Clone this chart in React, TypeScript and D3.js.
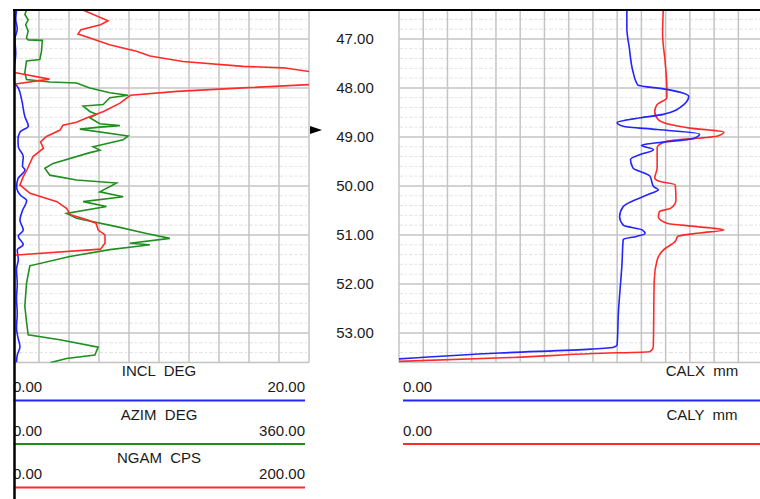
import React from "react";
import * as d3 from "d3";

// depth axis (m)
const depthTicks = [47, 48, 49, 50, 51, 52, 53];
const depthDomain: [number, number] = [46.41, 53.605];
const markerDepth = 48.86;

// [depth, value] pairs
const INCL: [number, number][] = [
  [46.42, 0.5], [46.6, 0.45], [46.8, 0.55], [47.0, 0.4], [47.3, 0.45], [47.6, 0.35],
  [47.85, 0.3], [48.0, 0.62], [48.25, 0.85], [48.6, 1.07], [48.78, 1.29], [48.9, 0.73],
  [49.05, 0.6], [49.2, 0.62], [49.4, 0.95], [49.6, 0.9], [49.67, 1.07], [49.85, 0.6],
  [50.02, 0.51], [50.2, 0.8], [50.3, 1.18], [50.5, 0.9], [50.7, 0.73], [50.9, 0.95],
  [51.03, 0.62], [51.2, 0.95], [51.3, 0.55], [51.5, 0.62], [51.7, 0.5], [52.0, 0.55],
  [52.3, 0.5], [52.6, 0.55], [52.9, 0.5], [53.1, 0.6], [53.28, 0.73], [53.45, 0.55], [53.6, 0.5],
];

const AZIM: [number, number][] = [
  [46.42, 21], [46.5, 19], [46.61, 23], [46.71, 20], [46.84, 23], [46.98, 21], [47.02, 23],
  [47.03, 40], [47.25, 39], [47.42, 37], [47.45, 21], [47.69, 19], [47.83, 21], [47.88, 49],
  [47.9, 81], [48.0, 97], [48.1, 121], [48.15, 143], [48.2, 121], [48.34, 113], [48.37, 89],
  [48.48, 97], [48.54, 105], [48.61, 97], [48.73, 109], [48.77, 133], [48.8, 109], [48.84, 85],
  [48.98, 143], [49.06, 137], [49.2, 101], [49.27, 109], [49.32, 97], [49.54, 53], [49.64, 43],
  [49.78, 49], [49.88, 81], [49.94, 129], [50.12, 109], [50.22, 137], [50.32, 89], [50.42, 117],
  [50.56, 69], [50.66, 81], [50.83, 129], [50.97, 165], [51.07, 193], [51.17, 145], [51.2, 169],
  [51.24, 150], [51.3, 121], [51.44, 73], [51.63, 25], [51.99, 21], [52.46, 19], [52.77, 21],
  [53.04, 23], [53.14, 61], [53.29, 107], [53.45, 103], [53.52, 69], [53.61, 49],
];

const NGAM: [number, number][] = [
  [46.42, 50], [46.63, 66], [46.71, 61], [46.81, 48], [46.9, 46], [46.98, 54], [47.12, 67],
  [47.25, 85], [47.35, 94], [47.46, 116], [47.56, 156], [47.59, 183], [47.67, 201], [47.82, 227],
  [47.93, 202], [48.0, 156], [48.07, 112], [48.15, 81], [48.31, 74], [48.48, 63], [48.61, 52],
  [48.7, 45], [48.76, 36], [48.86, 34], [48.99, 25], [49.1, 21], [49.23, 23], [49.4, 16],
  [49.67, 12], [49.81, 9.5], [49.98, 7.3], [50.15, 14], [50.32, 32], [50.46, 38.5], [50.59, 41],
  [50.69, 52], [50.76, 58], [50.9, 59.5], [51.0, 64], [51.17, 64], [51.29, 61], [51.41, 5], [51.42, 0],
];

const CALX: [number, number][] = [
  [46.42, 188], [46.78, 188], [47.18, 190], [47.66, 193], [47.94, 197], [48.03, 221], [48.17, 239],
  [48.34, 235], [48.54, 218], [48.61, 199], [48.71, 180], [48.78, 185], [48.85, 213], [48.94, 248],
  [49.03, 243], [49.12, 213], [49.17, 200], [49.26, 210], [49.36, 199], [49.46, 191], [49.63, 193],
  [49.8, 207], [50.01, 210], [50.08, 214], [50.15, 208], [50.42, 185], [50.63, 182], [50.8, 185],
  [50.9, 201], [50.97, 203], [51.03, 196], [51.09, 185], [51.58, 184], [52.6, 181], [53.24, 180],
  [53.29, 177], [53.33, 158], [53.41, 83], [53.53, 0],
];

const CALY: [number, number][] = [
  [46.42, 218], [46.91, 217.5], [47.45, 219.5], [47.99, 221], [48.2, 221], [48.34, 213], [48.48, 211],
  [48.65, 214], [48.82, 240], [48.9, 268], [48.98, 263], [49.09, 221], [49.22, 213], [49.63, 213],
  [49.84, 211], [49.9, 214], [49.98, 228], [50.29, 228.5], [50.46, 224], [50.52, 215], [50.63, 214],
  [50.76, 221], [50.83, 246], [50.9, 268], [50.96, 248], [51.03, 230], [51.13, 228], [51.31, 218],
  [51.51, 213], [51.92, 210.6], [53.28, 209.8], [53.38, 207], [53.42, 160], [53.5, 94], [53.58, 0],
];

const leftLegend = [
  { name: "INCL  DEG", min: "0.00", max: "20.00", color: "#2424ff" },
  { name: "AZIM  DEG", min: "0.00", max: "360.00", color: "#1f8f1f" },
  { name: "NGAM  CPS", min: "0.00", max: "200.00", color: "#ff2b2b" },
];
const rightLegend = [
  { name: "CALX  mm", min: "0.00", color: "#2424ff" },
  { name: "CALY  mm", min: "0.00", color: "#ff2b2b" },
];

const W = 760;
const H = 499;
const top = 10;
const bottom = 362.6;
const L0 = 9, L1 = 309;
const R0 = 399, R1 = 1005;
const FONT = "'Liberation Sans', Arial, sans-serif";

export default function App() {
  const y = d3.scaleLinear().domain(depthDomain).range([top, bottom]);
  const xIncl = d3.scaleLinear().domain([0, 20]).range([L0, L1]);
  const xAzim = d3.scaleLinear().domain([0, 360]).range([L0, L1]);
  const xNgam = d3.scaleLinear().domain([0, 200]).range([L0, L1]);
  const xCal = d3.scaleLinear().domain([0, 500]).range([R0, R1]);

  const mk = (fx: (v: number) => number, curve: d3.CurveFactory = d3.curveLinear) =>
    d3.line<[number, number]>().x((d) => fx(d[1])).y((d) => y(d[0])).curve(curve);

  const minor = d3.range(232, 269).map((i) => i / 5).filter((d) => d % 1 !== 0 && d > depthDomain[0] && d < depthDomain[1]);
  const leftV = xIncl.ticks(10).map((t) => xIncl(t));
  const rightV = xCal.ticks(20).map((t) => xCal(t));

  const grid = (x0: number, x1: number, vs: number[]) => (
    <g>
      {minor.map((d) => (
        <line key={"m" + d} x1={x0} x2={x1} y1={y(d)} y2={y(d)} stroke="#e2e2e2" strokeWidth={1} strokeDasharray="4,2,2,2" />
      ))}
      {vs.map((x, i) => (
        <line key={"v" + i} x1={x} x2={x} y1={top} y2={bottom} stroke="#c4c4c4" strokeWidth={1.5} />
      ))}
      {depthTicks.map((d) => (
        <line key={"h" + d} x1={x0} x2={x1} y1={y(d)} y2={y(d)} stroke="#c4c4c4" strokeWidth={1.5} />
      ))}
      <line x1={x0} x2={x1} y1={bottom} y2={bottom} stroke="#c4c4c4" strokeWidth={1.5} />
    </g>
  );

  const ym = y(markerDepth);
  const rowH = 43.5;

  return (
    <svg width={W} height={H} style={{ position: "absolute", left: 0, top: 0, background: "#fff" }} fontFamily={FONT}>
      <defs>
        <clipPath id="clipL"><rect x={L0} y={top} width={L1 - L0} height={bottom - top} /></clipPath>
        <clipPath id="clipR"><rect x={R0} y={top} width={R1 - R0} height={bottom - top} /></clipPath>
      </defs>
      <rect width={W} height={H} fill="#fff" />

      {grid(L0, L1, leftV)}
      {grid(R0, R1, rightV)}

      <g clipPath="url(#clipL)" fill="none" strokeWidth={1.6}>
        <path d={mk(xIncl, d3.curveMonotoneY)(INCL) ?? ""} stroke="#2424ff" />
        <path d={mk(xAzim)(AZIM) ?? ""} stroke="#1f8f1f" />
        <path d={mk(xNgam)(NGAM) ?? ""} stroke="#ff2b2b" />
        {/* wrap-around of NGAM above 200 cps */}
        <path d={mk((v) => xNgam(v - 200))(NGAM) ?? ""} stroke="#ff2b2b" />
      </g>
      <g clipPath="url(#clipR)" fill="none" strokeWidth={1.6}>
        <path d={mk(xCal, d3.curveMonotoneY)(CALY) ?? ""} stroke="#ff2b2b" />
        <path d={mk(xCal, d3.curveMonotoneY)(CALX) ?? ""} stroke="#2424ff" />
      </g>

      {/* depth track */}
      {depthTicks.map((d) => (
        <text key={d} x={(L1 + R0) / 2 + 1} y={y(d)} dy="0.36em" textAnchor="middle" fontSize={15} fill="#1a1a1a">
          {d.toFixed(2)}
        </text>
      ))}
      <polygon points={`${L1 + 1},${ym - 4} ${L1 + 13},${ym} ${L1 + 1},${ym + 4}`} fill="#000" />

      {/* headers */}
      {leftLegend.map((c, i) => (
        <g key={c.name} fontSize={15} fill="#1a1a1a">
          <text x={(L0 + L1) / 2} y={376 + i * rowH} textAnchor="middle" style={{ whiteSpace: "pre" }}>{c.name}</text>
          <text x={L0 + 4} y={392 + i * rowH}>{c.min}</text>
          <text x={L1 - 4} y={392 + i * rowH} textAnchor="end">{c.max}</text>
          <line x1={L0 + 4} x2={L1 - 4} y1={400.5 + i * rowH} y2={400.5 + i * rowH} stroke={c.color} strokeWidth={2} />
        </g>
      ))}
      {rightLegend.map((c, i) => (
        <g key={c.name} fontSize={15} fill="#1a1a1a">
          <text x={(R0 + R1) / 2} y={376 + i * rowH} textAnchor="middle" style={{ whiteSpace: "pre" }}>{c.name}</text>
          <text x={R0 + 4} y={392 + i * rowH}>{c.min}</text>
          <line x1={R0 + 4} x2={W} y1={400.5 + i * rowH} y2={400.5 + i * rowH} stroke={c.color} strokeWidth={2} />
        </g>
      ))}

      {/* screenshot frame */}
      <rect x={0} y={0} width={13.5} height={H} fill="#fff" />
      <rect x={0} y={0} width={W} height={9} fill="#fff" />
      <line x1={14.5} x2={14.5} y1={9} y2={H} stroke="#000" strokeWidth={2.5} />
      <line x1={13} x2={W} y1={10} y2={10} stroke="#000" strokeWidth={2} />
    </svg>
  );
}
